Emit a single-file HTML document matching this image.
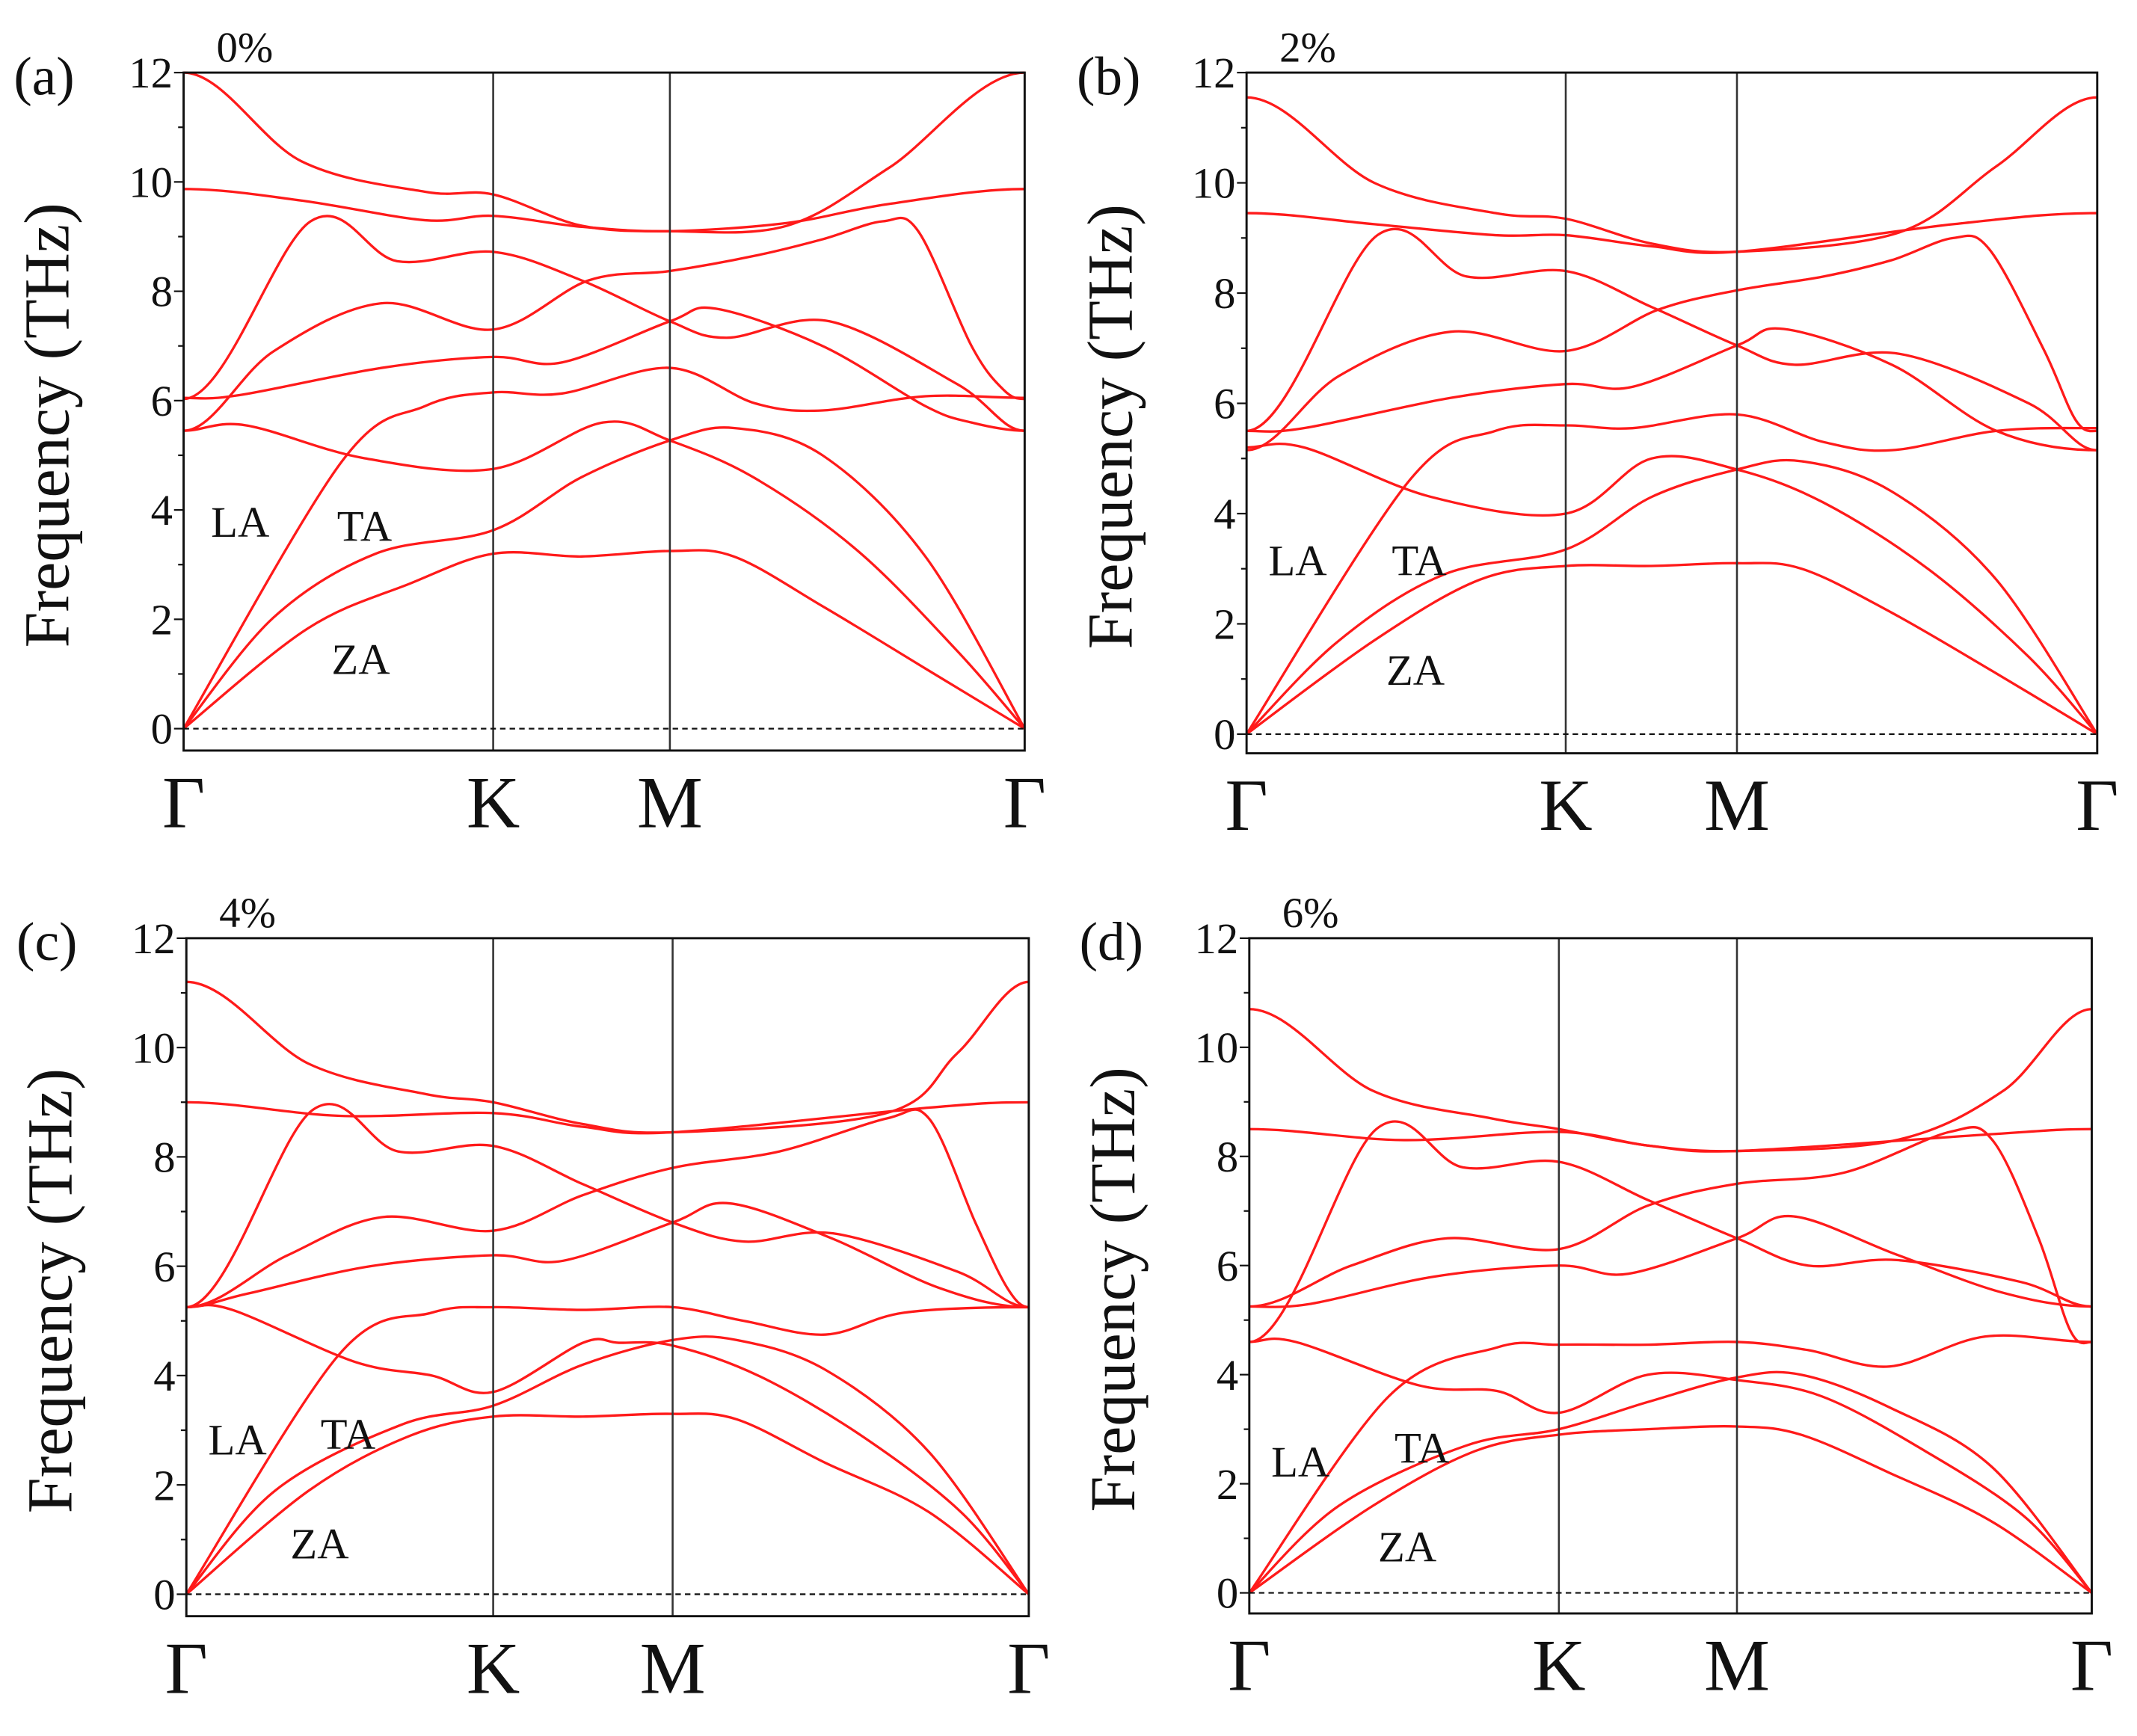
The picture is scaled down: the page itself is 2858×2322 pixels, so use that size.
<!DOCTYPE html>
<html><head><meta charset="utf-8">
<style>
html,body{margin:0;padding:0;background:#fff;}
svg{display:block;}
</style></head>
<body>
<svg id="s" xmlns="http://www.w3.org/2000/svg" width="2858" height="2322" viewBox="0 0 1560 1267.5"></svg>
<script>
const NS="http://www.w3.org/2000/svg";
const svg=document.getElementById('s');
function el(t,a,txt){const e=document.createElementNS(NS,t);for(const k in a)e.setAttribute(k,a[k]);if(t==='text'){e.setAttribute('font-family','Liberation Serif, serif');e.setAttribute('fill','#111');}if(txt!==undefined)e.textContent=txt;svg.appendChild(e);return e;}
const panels=[
 {L:134,R:748,T:53,B:548,y0:532,K:360,M:489,lab:"(a)",pct:"0%",la:[154,392],ta:[246,395],za:[242,492],
  bands:[
  [[0,12],[0.38,10.38],[0.78,9.82],[1,9.77],[1.5,9.2],[2,9.1],[2.33,9.2],[2.62,10.27],[3,12]],
  [[0,9.87],[0.38,9.66],[0.78,9.3],[1,9.38],[1.5,9.18],[2,9.1],[2.33,9.25],[2.62,9.6],[3,9.87]],
  [[0,6.03],[0.41,9.28],[0.69,8.55],[1,8.72],[1.5,8.2],[2,7.45],[2.16,7.15],[2.45,7.45],[2.81,6.3],[3,5.45]],
  [[0,5.45],[0.29,6.9],[0.64,7.78],[1,7.3],[1.54,8.2],[2,8.37],[2.24,8.65],[2.43,8.95],[2.6,9.28],[2.7,9.1],[2.85,7.0],[2.94,6.2],[3,6.03]],
  [[0,6.05],[0.18,6.1],[0.64,6.6],[1,6.8],[1.39,6.7],[2,7.45],[2.13,7.68],[2.43,7.0],[2.72,5.9],[2.85,5.6],[3,5.45]],
  [[0,5.45],[0.2,5.55],[0.58,4.95],[1,4.75],[1.62,5.6],[2,5.27],[2.24,4.58],[2.53,3.25],[2.81,1.42],[3,0]],
  [[0,0],[0.51,4.88],[0.78,5.9],[1,6.15],[1.39,6.13],[2,6.6],[2.24,5.95],[2.43,5.82],[2.72,6.08],[3,6.05]],
  [[0,0],[0.29,2.03],[0.62,3.2],[1,3.63],[1.5,4.6],[2,5.27],[2.18,5.5],[2.43,5.0],[2.72,3.15],[3,0]],
  [[0,0],[0.4,1.83],[0.73,2.65],[1,3.2],[1.5,3.15],[2,3.25],[2.18,3.15],[2.43,2.24],[2.72,1.1],[3,0]]]},
 {L:910,R:1531,T:53,B:550,y0:536,K:1143,M:1268,lab:"(b)",pct:"2%",la:[926,420],ta:[1016,420],za:[1012,500],
  bands:[
  [[0,11.55],[0.4,10.0],[0.78,9.45],[1,9.35],[1.5,8.9],[2,8.75],[2.45,9.1],[2.72,10.3],[3,11.55]],
  [[0,9.45],[0.4,9.25],[0.78,9.05],[1,9.05],[1.5,8.85],[2,8.75],[2.6,9.25],[3,9.45]],
  [[0,5.5],[0.41,9.05],[0.69,8.3],[1,8.4],[1.5,7.75],[2,7.05],[2.16,6.7],[2.45,6.9],[2.81,6.0],[3,5.15]],
  [[0,5.15],[0.29,6.5],[0.64,7.3],[1,6.95],[1.54,7.7],[2,8.05],[2.24,8.3],[2.43,8.6],[2.6,9.0],[2.7,8.8],[2.85,7.0],[2.94,5.7],[3,5.5]],
  [[0,5.5],[0.18,5.55],[0.64,6.1],[1,6.35],[1.39,6.3],[2,7.05],[2.13,7.35],[2.43,6.7],[2.72,5.5],[3,5.15]],
  [[0,5.2],[0.18,5.2],[0.58,4.3],[1,4.0],[1.5,5.0],[2,4.8],[2.24,4.2],[2.53,3.0],[2.81,1.4],[3,0]],
  [[0,0],[0.51,4.6],[0.78,5.5],[1,5.6],[1.39,5.55],[2,5.8],[2.24,5.3],[2.43,5.15],[2.72,5.5],[3,5.55]],
  [[0,0],[0.29,1.7],[0.62,2.9],[1,3.35],[1.5,4.3],[2,4.8],[2.18,4.95],[2.43,4.4],[2.72,2.8],[3,0]],
  [[0,0],[0.4,1.7],[0.73,2.8],[1,3.05],[1.5,3.05],[2,3.1],[2.18,3.0],[2.43,2.2],[2.72,1.1],[3,0]]]},
 {L:136,R:751,T:685,B:1180,y0:1164,K:360,M:491,lab:"(c)",pct:"4%",la:[152,1062],ta:[234,1058],za:[212,1138],
  bands:[
  [[0,11.2],[0.4,9.7],[0.78,9.15],[1,9.0],[1.5,8.6],[2,8.45],[2.6,8.8],[2.8,9.9],[3,11.2]],
  [[0,9.0],[0.5,8.75],[1,8.8],[1.5,8.55],[2,8.45],[2.72,8.9],[3,9.0]],
  [[0,5.25],[0.41,8.85],[0.69,8.1],[1,8.2],[1.5,7.5],[2,6.8],[2.2,6.45],[2.45,6.6],[2.8,5.9],[3,5.25]],
  [[0,5.25],[0.33,6.2],[0.64,6.9],[1,6.65],[1.5,7.3],[2,7.8],[2.3,8.1],[2.6,8.7],[2.72,8.7],[2.85,6.8],[2.94,5.6],[3,5.25]],
  [[0,5.25],[0.2,5.5],[0.6,6.0],[1,6.2],[1.39,6.1],[2,6.8],[2.16,7.15],[2.45,6.5],[2.75,5.6],[3,5.25]],
  [[0,5.25],[0.15,5.2],[0.55,4.25],[0.8,4.0],[1,3.7],[1.5,4.6],[1.7,4.6],[2,4.55],[2.24,4.0],[2.53,2.9],[2.81,1.5],[3,0]],
  [[0,0],[0.5,4.4],[0.8,5.15],[1,5.25],[1.5,5.2],[2,5.25],[2.2,5.0],[2.43,4.75],[2.65,5.15],[3,5.25]],
  [[0,0],[0.29,1.9],[0.7,3.1],[1,3.45],[1.5,4.2],[2,4.65],[2.18,4.65],[2.43,4.1],[2.72,2.6],[3,0]],
  [[0,0],[0.4,1.9],[0.73,2.9],[1,3.25],[1.5,3.25],[2,3.3],[2.18,3.2],[2.43,2.4],[2.72,1.5],[3,0]]]},
 {L:912,R:1527,T:685,B:1178,y0:1163,K:1138,M:1268,lab:"(d)",pct:"6%",la:[928,1078],ta:[1018,1068],za:[1006,1140],
  bands:[
  [[0,10.7],[0.4,9.2],[0.78,8.7],[1,8.5],[1.5,8.2],[2,8.1],[2.45,8.3],[2.75,9.2],[3,10.7]],
  [[0,8.5],[0.5,8.3],[1,8.45],[1.5,8.2],[2,8.1],[2.7,8.4],[3,8.5]],
  [[0,4.6],[0.41,8.5],[0.69,7.8],[1,7.9],[1.5,7.2],[2,6.5],[2.2,6.0],[2.45,6.1],[2.8,5.7],[3,5.25]],
  [[0,5.25],[0.33,6.0],[0.64,6.5],[1,6.3],[1.5,7.1],[2,7.5],[2.3,7.7],[2.6,8.45],[2.72,8.3],[2.85,6.5],[2.94,4.8],[3,4.6]],
  [[0,5.25],[0.2,5.3],[0.6,5.8],[1,6.0],[1.39,5.85],[2,6.5],[2.16,6.9],[2.45,6.2],[2.75,5.5],[3,5.25]],
  [[0,4.6],[0.15,4.6],[0.55,3.8],[0.8,3.7],[1,3.3],[1.5,4.0],[2,3.9],[2.24,3.6],[2.53,2.6],[2.81,1.4],[3,0]],
  [[0,0],[0.45,3.6],[0.8,4.5],[1,4.55],[1.5,4.55],[2,4.6],[2.2,4.45],[2.43,4.15],[2.7,4.7],[3,4.6]],
  [[0,0],[0.29,1.6],[0.7,2.7],[1,3.0],[1.5,3.5],[2,3.95],[2.18,4.0],[2.43,3.4],[2.72,2.3],[3,0]],
  [[0,0],[0.4,1.6],[0.73,2.6],[1,2.9],[1.5,3.0],[2,3.05],[2.18,2.9],[2.43,2.2],[2.72,1.3],[3,0]]]}
];
panels.forEach(p=>{
  const sc=(p.y0-p.T)/12;
  const X=u=>u<=1?p.L+u*(p.K-p.L):(u<=2?p.K+(u-1)*(p.M-p.K):p.M+(u-2)*(p.R-p.M));
  const Y=f=>p.y0-f*sc;
  p.bands.forEach(b=>{
    const pts=b.map(q=>[X(q[0]),Y(q[1])]);
    const n=pts.length;
    const first=b[0][1]>0?[2*pts[0][0]-pts[1][0],pts[1][1]]:pts[0];
    const last=b[n-1][1]>0?[2*pts[n-1][0]-pts[n-2][0],pts[n-2][1]]:pts[n-1];
    let d="M"+pts[0][0].toFixed(1)+","+pts[0][1].toFixed(1);
    for(let i=0;i<n-1;i++){
      const p0=i>0?pts[i-1]:first,p1=pts[i],p2=pts[i+1],p3=i+2<n?pts[i+2]:last;
      const c1=[p1[0]+(p2[0]-p0[0])/6,p1[1]+(p2[1]-p0[1])/6];
      const c2=[p2[0]-(p3[0]-p1[0])/6,p2[1]-(p3[1]-p1[1])/6];
      d+=" C"+c1[0].toFixed(1)+","+c1[1].toFixed(1)+" "+c2[0].toFixed(1)+","+c2[1].toFixed(1)+" "+p2[0].toFixed(1)+","+p2[1].toFixed(1);
    }
    el('path',{d:d,fill:'none',stroke:'#ff1a1a','stroke-width':1.8});
  });
  el('line',{x1:p.K,y1:p.T,x2:p.K,y2:p.B,stroke:'#333','stroke-width':1.4});
  el('line',{x1:p.M,y1:p.T,x2:p.M,y2:p.B,stroke:'#333','stroke-width':1.4});
  el('line',{x1:p.L,y1:p.y0,x2:p.R,y2:p.y0,stroke:'#111','stroke-width':1.2,'stroke-dasharray':'4,3'});
  el('rect',{x:p.L,y:p.T,width:p.R-p.L,height:p.B-p.T,fill:'none',stroke:'#111','stroke-width':1.6});
  for(let f=0;f<=12;f++){
    const y=Y(f);
    el('line',{x1:p.L-(f%2?4:7),y1:y,x2:p.L,y2:y,stroke:'#111','stroke-width':1.2});
    if(f%2===0) el('text',{x:p.L-8,y:y+11,'font-size':32,'text-anchor':'end'},String(f));
  }
  const cy=(p.T+p.B)/2;
  el('text',{x:0,y:0,'font-size':47,'text-anchor':'middle',transform:`translate(${p.L-84},${cy+10}) rotate(-90)`},"Frequency (THz)");
  el('text',{x:p.L-124,y:p.T+16,'font-size':40},p.lab);
  el('text',{x:p.L+24,y:p.T-8,'font-size':31},p.pct);
  const gy=p.B+56;
  el('text',{x:p.L,y:gy,'font-size':54,'text-anchor':'middle'},"Γ");
  el('text',{x:p.K,y:gy,'font-size':54,'text-anchor':'middle'},"K");
  el('text',{x:p.M,y:gy,'font-size':54,'text-anchor':'middle'},"M");
  el('text',{x:p.R,y:gy,'font-size':54,'text-anchor':'middle'},"Γ");
  el('text',{x:p.la[0],y:p.la[1],'font-size':32},"LA");
  el('text',{x:p.ta[0],y:p.ta[1],'font-size':32},"TA");
  el('text',{x:p.za[0],y:p.za[1],'font-size':32},"ZA");
});
</script>
</body></html>
